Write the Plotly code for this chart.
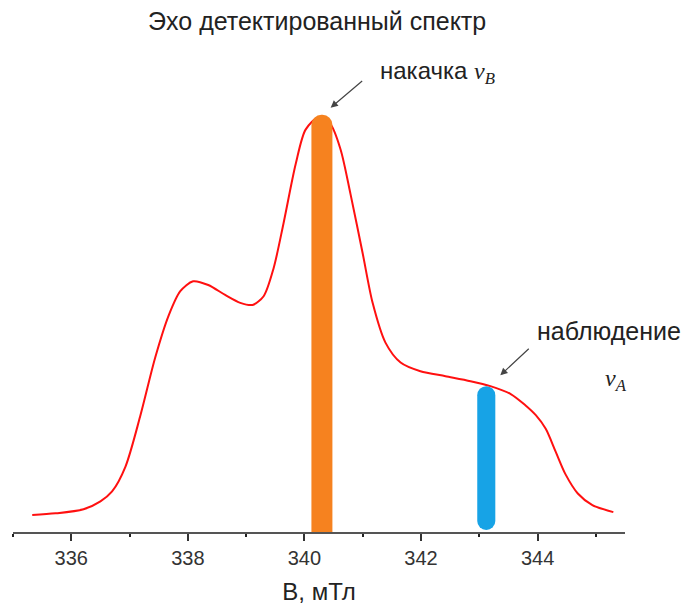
import plotly.graph_objects as go

# Spectrum (field in mT, normalized echo intensity)
field = [335.33, 335.73, 336.21, 336.50, 336.70, 336.93, 337.18, 337.44, 337.67, 337.87,
         338.09, 338.35, 338.64, 338.90, 339.11, 339.30, 339.47, 339.64, 339.85, 340.02,
         340.24, 340.45, 340.62, 340.79, 341.00, 341.17, 341.39, 341.65, 341.99, 342.42,
         342.85, 343.19, 343.54, 343.79, 343.97, 344.14, 344.31, 344.48, 344.69, 344.94, 345.30]
intensity = [0.041, 0.045, 0.055, 0.074, 0.098, 0.158, 0.278, 0.421, 0.522, 0.581,
             0.605, 0.596, 0.572, 0.553, 0.548, 0.569, 0.636, 0.744, 0.888, 0.971,
             1.000, 0.983, 0.923, 0.816, 0.672, 0.553, 0.457, 0.409, 0.388, 0.376,
             0.364, 0.352, 0.333, 0.306, 0.282, 0.249, 0.194, 0.139, 0.093, 0.065, 0.048]

# Pump (orange) and observation (blue) pulses
pump_field = [340.30]
pump_height = [1.007]
pump_width = [0.36]
obs_field = [343.12]
obs_top = [0.352]
obs_bottom = [0.005]
obs_width = [0.31]

tick_vals = [336, 338, 340, 342, 344]
tick_text = ["336", "338", "340", "342", "344"]

title_text = "Эхо детектированный спектр"
x_title = "B, мТл"

obs_len = [t - b for t, b in zip(obs_top, obs_bottom)]

fig = go.Figure()
fig.add_trace(go.Scatter(x=field, y=intensity, mode="lines",
                         line=dict(color="#FF1010", width=2, shape="spline", smoothing=0.8),
                         xaxis="x", yaxis="y", hoverinfo="skip"))
fig.add_trace(go.Bar(x=pump_field, y=pump_height, width=pump_width,
                     marker=dict(color="#F6821F", cornerradius="50%", line=dict(width=0)),
                     xaxis="x2", yaxis="y2"))
fig.add_trace(go.Bar(x=obs_field, y=obs_len, width=obs_width, base=obs_bottom,
                     marker=dict(color="#17A3E6", cornerradius="50%", line=dict(width=0)),
                     xaxis="x2", yaxis="y2"))

xr = [335.0, 345.5]
yr = [0, 1.139]

def nu(sub):
    return ('<span style="font-family:\'Liberation Serif\', serif"><i>ν</i></span>'
            '<sub><span style="font-family:\'Liberation Serif\', serif"><i>%s</i></span></sub>' % sub)

fig.update_layout(
    width=692, height=613,
    margin=dict(l=13, r=67, t=60, b=77),
    paper_bgcolor="white", plot_bgcolor="white",
    showlegend=False, barmode="overlay",
    font=dict(family="Liberation Sans, Arial, sans-serif", color="#222"),
    title=dict(text=title_text, x=0.497, xanchor="center", y=0.965, yanchor="middle",
               xref="paper", font=dict(size=25, color="#222")),
    xaxis=dict(range=xr, tickvals=tick_vals, ticktext=tick_text, showgrid=False, zeroline=False,
               showline=True, linecolor="#555", linewidth=2, ticks="outside", ticklen=7,
               tickwidth=1.5, tickcolor="#333", tickfont=dict(size=20, color="#333"),
               minor=dict(dtick=1, tick0=335, ticks="outside", ticklen=3, tickwidth=2, tickcolor="#222"),
               title=dict(text=x_title, font=dict(size=24, color="#222"), standoff=15)),
    yaxis=dict(range=yr, visible=False, showgrid=False, zeroline=False),
    xaxis2=dict(range=xr, overlaying="x", visible=False, showgrid=False, zeroline=False),
    yaxis2=dict(range=yr, overlaying="y", visible=False, showgrid=False, zeroline=False),
    annotations=[
        dict(x=341.27, y=1.110, xref="x", yref="y", xanchor="left", yanchor="middle",
             text="накачка " + nu("B"), showarrow=False, font=dict(size=24, color="#222")),
        dict(x=340.45, y=1.024, xref="x", yref="y", ax=33, ay=-28, text="", showarrow=True,
             arrowhead=2, arrowsize=1.2, arrowwidth=1.2, arrowcolor="#444"),
        dict(x=343.95, y=0.486, xref="x", yref="y", xanchor="left", yanchor="middle",
             text="наблюдение", showarrow=False, font=dict(size=25, color="#222")),
        dict(x=345.34, y=0.366, xref="x", yref="y", xanchor="center", yanchor="middle",
             text=nu("A"), showarrow=False, font=dict(size=24, color="#222")),
        dict(x=343.36, y=0.378, xref="x", yref="y", ax=30, ay=-28, text="", showarrow=True,
             arrowhead=2, arrowsize=1.2, arrowwidth=1.2, arrowcolor="#444"),
    ],
)

fig.write_html("out.html")
